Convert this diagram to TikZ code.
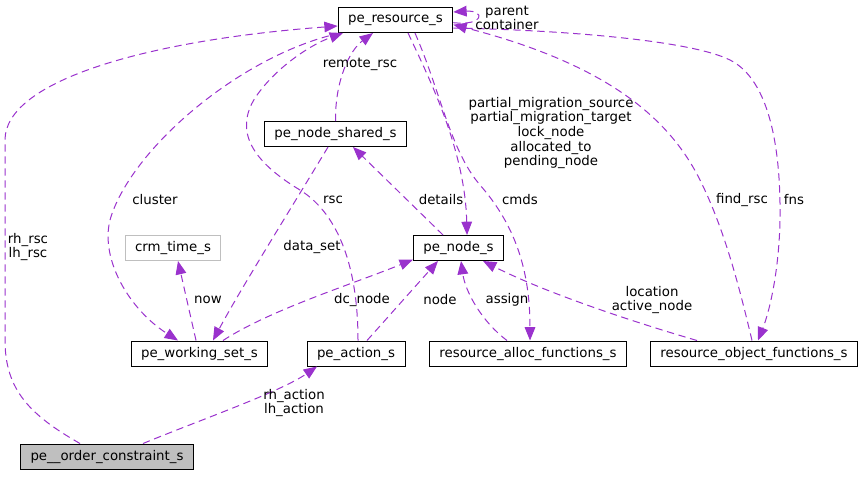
\documentclass[tikz,border=0pt]{standalone}
\usepackage{fontspec}
\setmainfont{DejaVu Sans}
\usetikzlibrary{arrows.meta}
\definecolor{edgepurple}{HTML}{9A32CD}
\definecolor{boxgray}{HTML}{BFBFBF}

\begin{document}
\begin{tikzpicture}
  [x=0.75pt, y=-0.75pt,
   every node/.style = {font=\fontsize{10}{11}\selectfont},
   structbox/.style = {draw, line width=0.75pt, fill=white, inner xsep=7.5pt,
                       inner ysep=0pt, minimum height=18.75pt},
   member/.style = {draw=edgepurple, line width=0.75pt, dash pattern=on 5.5pt off 3.5pt,
                    -{Triangle[length=10pt,width=8pt]}},
   memberlabel/.style = {align=center, inner sep=0pt}]

\useasboundingbox (0,0) rectangle (863,476);

% Structs
\node[structbox] (res) at (395.5,20) {pe\_resource\_s};
\node[structbox] (shared) at (335.5,134) {pe\_node\_shared\_s};
\node[structbox, draw=boxgray] (crmtime) at (173,248) {crm\_time\_s};
\node[structbox] (pnode) at (458.5,248) {pe\_node\_s};
\node[structbox] (wset) at (199.5,353.5) {pe\_working\_set\_s};
\node[structbox] (action) at (356,353.5) {pe\_action\_s};
\node[structbox] (alloc) at (528,353.5) {resource\_alloc\_functions\_s};
\node[structbox] (objfns) at (754,353.5) {resource\_object\_functions\_s};
\node[structbox, fill=boxgray] (order) at (107,456.5) {pe\_\_order\_constraint\_s};

% Members of pe__order_constraint_s
\draw[member] ([xshift=-20.25pt]order.north) .. controls (30,415) and (5,390) .. (5,340)
  -- (5,140) .. controls (5,80) and (150,40) .. ([yshift=-4.5pt]res.west);
\draw[member] ([xshift=27pt]order.north) .. controls (200,420) and (280,392) .. ([xshift=-29.25pt]action.south);

% Members of pe_resource_s
\draw[member] ([xshift=2pt]res.south west) .. controls (240,55) and (130,150) .. (110,220)
  .. controls (100,260) and (130,310) .. ([xshift=-16.1pt]wset.north);
\draw[member] ([xshift=9.4pt]res.south) .. controls (430,80) and (465,150) .. ([xshift=6.4pt]pnode.north);
\draw[member] ([xshift=14.6pt]res.south) .. controls (440,90) and (450,150) .. (480,185)
  .. controls (515,225) and (530,270) .. ([xshift=1.5pt]alloc.north);
\draw[member] ([yshift=-6pt]res.east) .. controls (560,30) and (690,40) .. (730,60)
  .. controls (770,80) and (781,150) .. (780,220)
  .. controls (779,270) and (770,310) .. ([xshift=3pt]objfns.north);
\draw[member] ([yshift=-2pt]res.east) .. controls (485,26) and (485,10) .. ([yshift=6pt]res.east);

% Members pointing back to pe_resource_s
\draw[member] ([xshift=1.5pt]action.north) .. controls (358,270) and (340,215) .. (300,190)
  .. controls (250,160) and (235,130) .. (255,98)
  .. controls (275,68) and (310,45) .. ([xshift=4pt]res.south west);
\draw[member] (shared.north) .. controls (335,80) and (350,50) .. ([xshift=-16.9pt]res.south);
\draw[member] ([xshift=-1.5pt]objfns.north) .. controls (740,290) and (725,230) .. (700,180)
  .. controls (670,120) and (610,65) .. ([yshift=-3.5pt]res.east);

% Members pointing to pe_node_s and friends
\draw[member] ([xshift=-11.6pt]pnode.north) -- ([xshift=13.1pt]shared.south);
\draw[member] ([xshift=-5.6pt]shared.south) .. controls (290,210) and (240,290) .. ([xshift=10.1pt]wset.north);
\draw[member] ([xshift=-2.6pt]wset.north) -- ([xshift=3.75pt]crmtime.south);
\draw[member] ([xshift=17.6pt]wset.north) .. controls (270,310) and (350,285) .. ([yshift=1pt]pnode.south west);
\draw[member] ([xshift=8.25pt]action.north) -- ([xshift=-15.4pt]pnode.south);
\draw[member] ([xshift=-15.75pt]alloc.north) .. controls (480,320) and (465,290) .. ([xshift=1.9pt]pnode.south);
\draw[member] ([xshift=-42.75pt]objfns.north) .. controls (620,318) and (540,290) .. ([xshift=18.4pt]pnode.south);

% Labels
\node[memberlabel] (l-rsc2) at (28,247) {rh\_rsc\\lh\_rsc};
\node[memberlabel] (l-action2) at (294,403) {rh\_action\\lh\_action};
\node[memberlabel] (l-parent) at (507,18) {parent\\container};
\node[memberlabel] (l-remote) at (360,64) {remote\_rsc};
\node[memberlabel] (l-nodes) at (551,133) {partial\_migration\_source\\partial\_migration\_target\\lock\_node\\allocated\_to\\pending\_node};
\node[memberlabel] (l-cluster) at (155,200) {cluster};
\node[memberlabel] (l-rsc) at (333,200) {rsc};
\node[memberlabel] (l-details) at (441,200) {details};
\node[memberlabel] (l-cmds) at (520,200) {cmds};
\node[memberlabel] (l-find) at (742,200) {find\_rsc};
\node[memberlabel] (l-fns) at (794,200) {fns};
\node[memberlabel] (l-dataset) at (312,247) {data\_set};
\node[memberlabel] (l-now) at (208,300) {now};
\node[memberlabel] (l-dcnode) at (362,300) {dc\_node};
\node[memberlabel] (l-node) at (440,300) {node};
\node[memberlabel] (l-assign) at (507,300) {assign};
\node[memberlabel] (l-location) at (652,300) {location\\active\_node};

\end{tikzpicture}
\end{document}
